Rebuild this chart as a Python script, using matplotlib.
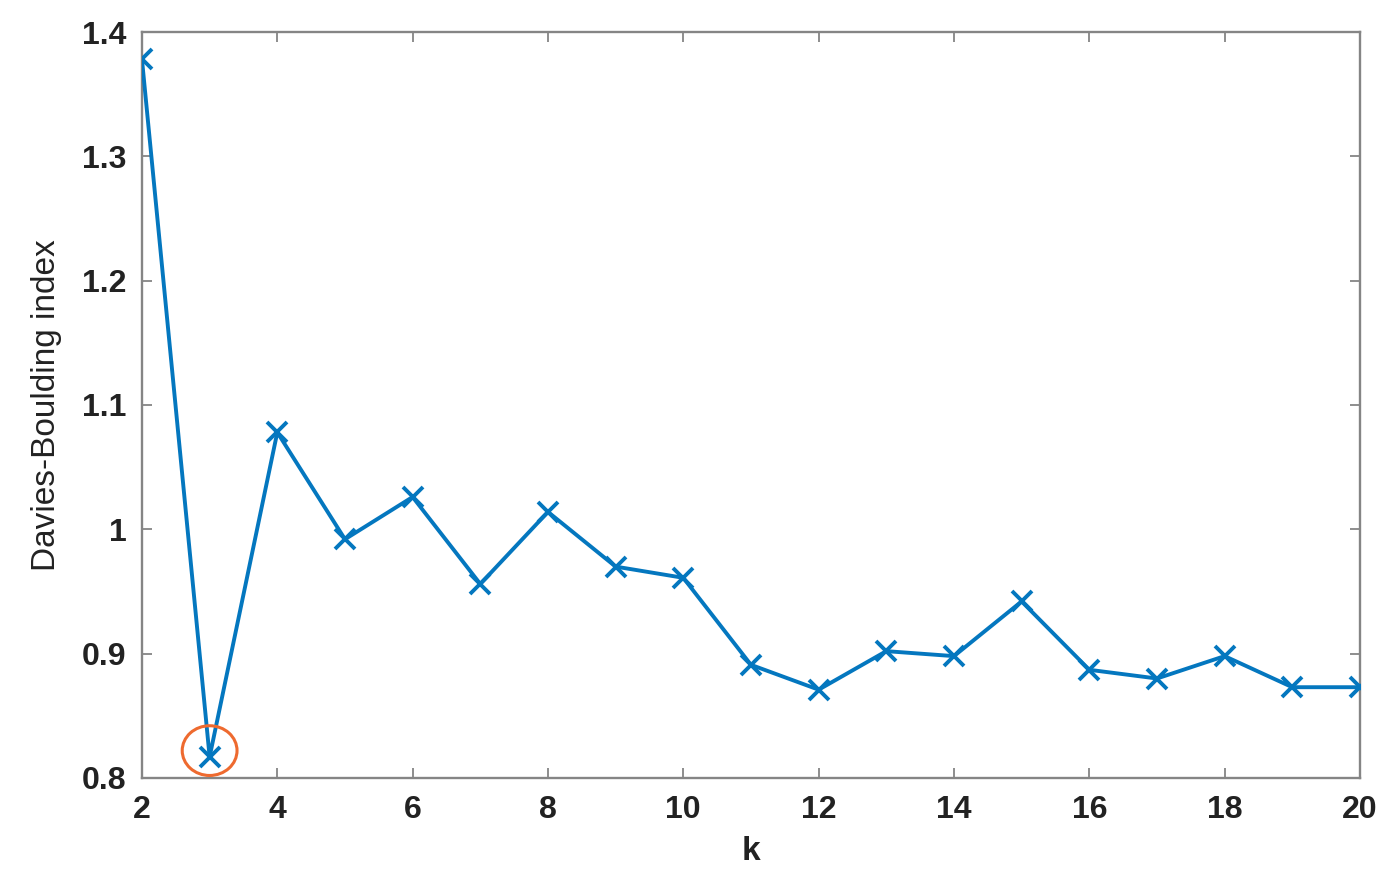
import numpy as np
import matplotlib
matplotlib.use("Agg")
import matplotlib.pyplot as plt
from matplotlib.patches import Ellipse

# Davies-Bouldin index vs number of clusters k
k_values = [2, 3, 4, 5, 6, 7, 8, 9, 10, 11, 12, 13, 14, 15, 16, 17, 18, 19, 20]
db_index = [1.378, 0.817, 1.078, 0.992, 1.026, 0.956, 1.014, 0.970, 0.961,
            0.891, 0.871, 0.902, 0.898, 0.942, 0.887, 0.880, 0.898, 0.873, 0.873]

x_ticks = [2, 4, 6, 8, 10, 12, 14, 16, 18, 20]
y_ticks = [0.8, 0.9, 1.0, 1.1, 1.2, 1.3, 1.4]
y_ticklabels = ["0.8", "0.9", "1", "1.1", "1.2", "1.3", "1.4"]

LINE_COLOR = "#0477BF"
CIRCLE_COLOR = "#EE6A2F"
SPINE_COLOR = "#858585"

plt.rcParams["font.family"] = ["Liberation Sans", "DejaVu Sans"]

fig = plt.figure(figsize=(14, 8.89), dpi=100)
ax = fig.add_axes([0.1014, 0.1249, 0.87, 0.8391])

ax.plot(k_values, db_index, color=LINE_COLOR, linewidth=2.8,
        marker="x", markersize=14, markeredgewidth=2.8, zorder=3)

# highlight the minimum
i_min = int(np.argmin(db_index))
ax.add_patch(Ellipse((k_values[i_min], db_index[i_min] + 0.005), 0.81, 0.04,
                     fill=False, edgecolor=CIRCLE_COLOR, linewidth=2.2, zorder=4))

ax.set_xlim(2, 20)
ax.set_ylim(0.8, 1.4)
ax.set_xticks(x_ticks)
ax.set_yticks(y_ticks)
ax.set_yticklabels(y_ticklabels)

for lbl in ax.get_xticklabels() + ax.get_yticklabels():
    lbl.set_fontweight("bold")
    lbl.set_fontsize(23)
    lbl.set_color("#222222")

ax.tick_params(axis="both", direction="in", length=7, width=1.3,
               color=SPINE_COLOR, top=True, right=True)
ax.tick_params(axis="x", pad=12)
ax.tick_params(axis="y", pad=11)

for sp in ax.spines.values():
    sp.set_color(SPINE_COLOR)
    sp.set_linewidth(1.7)

ax.set_xlabel("k", fontsize=24, fontweight="bold", color="#222222")
ax.set_ylabel("Davies-Boulding index", fontsize=24, color="#222222")
ax.xaxis.set_label_coords(0.5, -0.078)
ax.yaxis.set_label_coords(-0.066, 0.5)

fig.savefig("out.png", dpi=100, facecolor="white")
